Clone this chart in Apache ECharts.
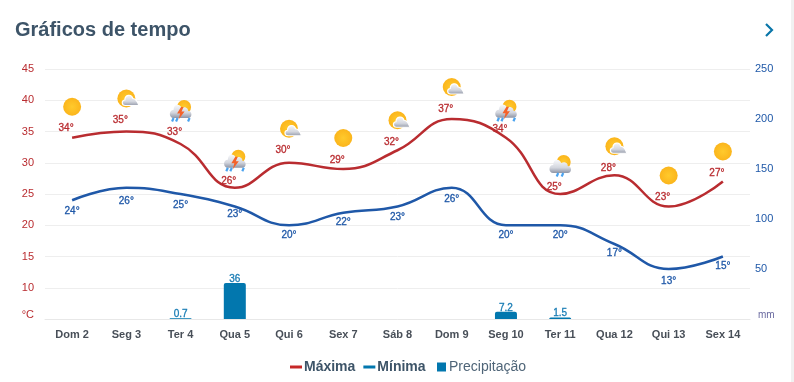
<!DOCTYPE html>
<html>
<head>
<meta charset="utf-8">
<style>
  html, body { margin: 0; background: #fff; }
  #chart { width: 794px; height: 382px; }
</style>
<script src="https://cdn.jsdelivr.net/npm/echarts@6/dist/echarts.min.js"></script>
</head>
<body>
<div id="chart"></div>
<script>
const days = ['Dom 2', 'Seg 3', 'Ter 4', 'Qua 5', 'Qui 6', 'Sex 7', 'Sáb 8', 'Dom 9', 'Seg 10', 'Ter 11', 'Qua 12', 'Qui 13', 'Sex 14'];
const maxima = [34, 35, 33, 26, 30, 29, 32, 37, 34, 25, 28, 23, 27];
const minima = [24, 26, 25, 23, 20, 22, 23, 26, 20, 20, 17, 13, 15];
const rainfall = [0, 0, 0.7, 36, 0, 0, 0, 0, 7.2, 1.5, 0, 0, 0];
const weather = ['sun', 'partly', 'storm', 'storm', 'partly', 'sun', 'partly', 'partly', 'storm', 'rain', 'partly', 'sun', 'sun'];

// label / icon nudges in px, the source chart places these per day
const maxLabelLift = [10, 12, 13, 7, 13, 10, 9, 11, 9, 8, 8, 10, 9];
const minLabelDrop = [10, 12, 10, 7, 9, 8, 10, 10, 9, 9, 8, 11, 9];
const iconLift = [31, 33, 32, 26, 34, 31, 30, 32, 26, 27, 29, 31, 30];

const RED = '#b92c30';
const BLUE = '#1f58a8';
const RAIN = '#0277ae';
const INK = '#3d5468';

const sunFill = {
  type: 'radial', x: 0.5, y: 0.5, r: 0.5,
  colorStops: [{ offset: 0, color: '#ffca2c' }, { offset: 1, color: '#fbb51c' }]
};
const cloudFill = {
  type: 'linear', x: 0, y: 0, x2: 0, y2: 1,
  colorStops: [{ offset: 0, color: '#f8f9fb' }, { offset: 0.6, color: '#d3d6de' }, { offset: 1, color: '#8f95a5' }]
};
const CLOUD_PATH = 'M-7,6C-12,6-12,-2-7,-2C-7,-8-1,-9,1,-4C4,-6,8,-4,7.5,-1C12,-1,12,6,7.5,6Z';
const SMALL_CLOUD_PATH = 'M-1,7C-5,7-5,1.5-1.5,1.5C-1.5,-4,5,-5,6.5,0C9,0,11.5,4,12.5,7Z';
const BOLT_PATH = 'M0.5,-5L-3.5,1.5L-0.5,1.5L-2,7.5L4,-0.5L1,-0.5L3,-5Z';

const drop = (x) => ({
  type: 'path',
  shape: { pathData: `M${x + 1},6L${x - 0.5},9.5` },
  style: { fill: 'none', stroke: '#4aa3f0', lineWidth: 2.2 }
});

const iconChildren = (kind) => {
  if (kind === 'sun') {
    return [{ type: 'circle', shape: { cx: 0, cy: 0, r: 9 }, style: { fill: sunFill } }];
  }
  if (kind === 'partly') {
    return [
      { type: 'circle', shape: { cx: 0, cy: 0, r: 9 }, style: { fill: sunFill } },
      { type: 'path', shape: { pathData: SMALL_CLOUD_PATH }, style: { fill: cloudFill, stroke: '#fff', lineWidth: 1.2 } }
    ];
  }
  const parts = [
    { type: 'circle', shape: { cx: 3.5, cy: -5, r: 7 }, style: { fill: sunFill } },
    { type: 'path', shape: { pathData: CLOUD_PATH }, style: { fill: cloudFill } }
  ];
  if (kind === 'storm') {
    return parts.concat([
      drop(-8), drop(-4), drop(8),
      { type: 'path', shape: { pathData: BOLT_PATH }, style: { fill: '#f4622a' } }
    ]);
  }
  return parts.concat([drop(-3), drop(2)]);
};

const chart = echarts.init(document.getElementById('chart'));

chart.setOption({
  animation: false,
  textStyle: { fontFamily: '"Liberation Sans", Arial, sans-serif' },
  title: {
    text: 'Gráficos de tempo',
    left: 15,
    top: 20,
    padding: 0,
    textStyle: { fontSize: 20, fontWeight: 'bold', color: INK }
  },
  grid: { left: 45, right: 44, top: 69, bottom: 63 },
  legend: [
    {
      left: 290,
      top: 360,
      padding: 0,
      icon: 'rect',
      itemWidth: 12,
      itemHeight: 3,
      itemGap: 8,
      textStyle: { fontSize: 14, fontWeight: 'bold', color: INK, padding: [0, 0, 0, -3] },
      data: [
        { name: 'Máxima', itemStyle: { color: '#c62828' } },
        { name: 'Mínima', itemStyle: { color: RAIN } }
      ]
    },
    {
      left: 437,
      top: 360,
      padding: 0,
      icon: 'rect',
      itemWidth: 9,
      itemHeight: 9,
      textStyle: { fontSize: 14, color: '#4f6578', padding: [0, 0, 0, -2] },
      data: ['Precipitação']
    }
  ],
  xAxis: {
    type: 'category',
    data: days,
    axisLine: { lineStyle: { color: '#e8e8e8' } },
    axisTick: { alignWithLabel: true, length: 10, lineStyle: { color: '#e8e8e8' } },
    axisLabel: { fontSize: 11, fontWeight: 'bold', color: '#484f58', margin: 10 }
  },
  yAxis: [
    {
      type: 'value',
      min: 5,
      max: 45,
      interval: 5,
      axisLine: { show: false },
      axisTick: { show: false },
      splitLine: { lineStyle: { color: '#eeeeee' } },
      axisLabel: {
        fontSize: 11,
        color: RED,
        margin: 11,
        formatter: (v) => (v === 5 ? '{unit|°C}' : String(v)),
        rich: { unit: { fontSize: 11, color: RED, padding: [0, 0, 8, 0] } }
      }
    },
    {
      type: 'value',
      min: 0,
      max: 250,
      interval: 50,
      axisLine: { show: false },
      axisTick: { show: false },
      splitLine: { show: false },
      axisLabel: {
        fontSize: 11,
        color: BLUE,
        margin: 5,
        formatter: (v) => (v === 0 ? '{unit|mm}' : String(v)),
        rich: { unit: { fontSize: 10, color: '#6a6aa0', padding: [0, 0, 7, 3] } }
      }
    }
  ],
  series: [
    {
      name: 'Precipitação',
      type: 'bar',
      yAxisIndex: 1,
      data: rainfall,
      barWidth: 22,
      itemStyle: { color: RAIN, borderRadius: [2, 2, 0, 0] },
      label: {
        show: true,
        position: 'top',
        distance: -1,
        fontSize: 10,
        color: '#1a7db5',
        textBorderColor: '#1a7db5',
        textBorderWidth: 0.3,
        formatter: (p) => (p.value > 0 ? String(p.value) : '')
      }
    },
    {
      name: 'Máxima',
      type: 'line',
      data: maxima.map((v, i) => ({
        value: v,
        label: { offset: [-6, 6 - maxLabelLift[i]] }
      })),
      smooth: 0.45,
      showSymbol: true,
      symbol: 'circle',
      symbolSize: 0.01,
      lineStyle: { color: RED, width: 2.5 },
      itemStyle: { color: RED },
      label: {
        show: true,
        position: 'top',
        distance: 0,
        fontSize: 10,
        color: RED,
        textBorderColor: RED,
        textBorderWidth: 0.3,
        formatter: '{c}°'
      }
    },
    {
      name: 'Mínima',
      type: 'line',
      data: minima.map((v, i) => ({
        value: v,
        label: { offset: [0, minLabelDrop[i] - 4] }
      })),
      smooth: 0.45,
      showSymbol: true,
      symbol: 'circle',
      symbolSize: 0.01,
      lineStyle: { color: BLUE, width: 2.5 },
      itemStyle: { color: BLUE },
      label: {
        show: true,
        position: 'bottom',
        distance: 0,
        fontSize: 10,
        color: BLUE,
        textBorderColor: BLUE,
        textBorderWidth: 0.3,
        formatter: '{c}°'
      }
    },
    {
      name: 'Tempo',
      type: 'custom',
      z: 5,
      clip: false,
      data: maxima.map((v, i) => [i, v]),
      renderItem: (params, api) => {
        const [x, y] = api.coord([api.value(0), api.value(1)]);
        return {
          type: 'group',
          x,
          y: y - iconLift[params.dataIndex],
          children: iconChildren(weather[params.dataIndex])
        };
      }
    }
  ],
  graphic: [
    {
      type: 'polyline',
      shape: { points: [[766, 24], [772, 30], [766, 36]] },
      style: { fill: 'none', stroke: '#0a76a9', lineWidth: 2.2 }
    },
    {
      type: 'rect',
      shape: { x: 791, y: 0, width: 3, height: 382 },
      style: { fill: '#f1f1f1' }
    }
  ]
});
</script>
</body>
</html>
